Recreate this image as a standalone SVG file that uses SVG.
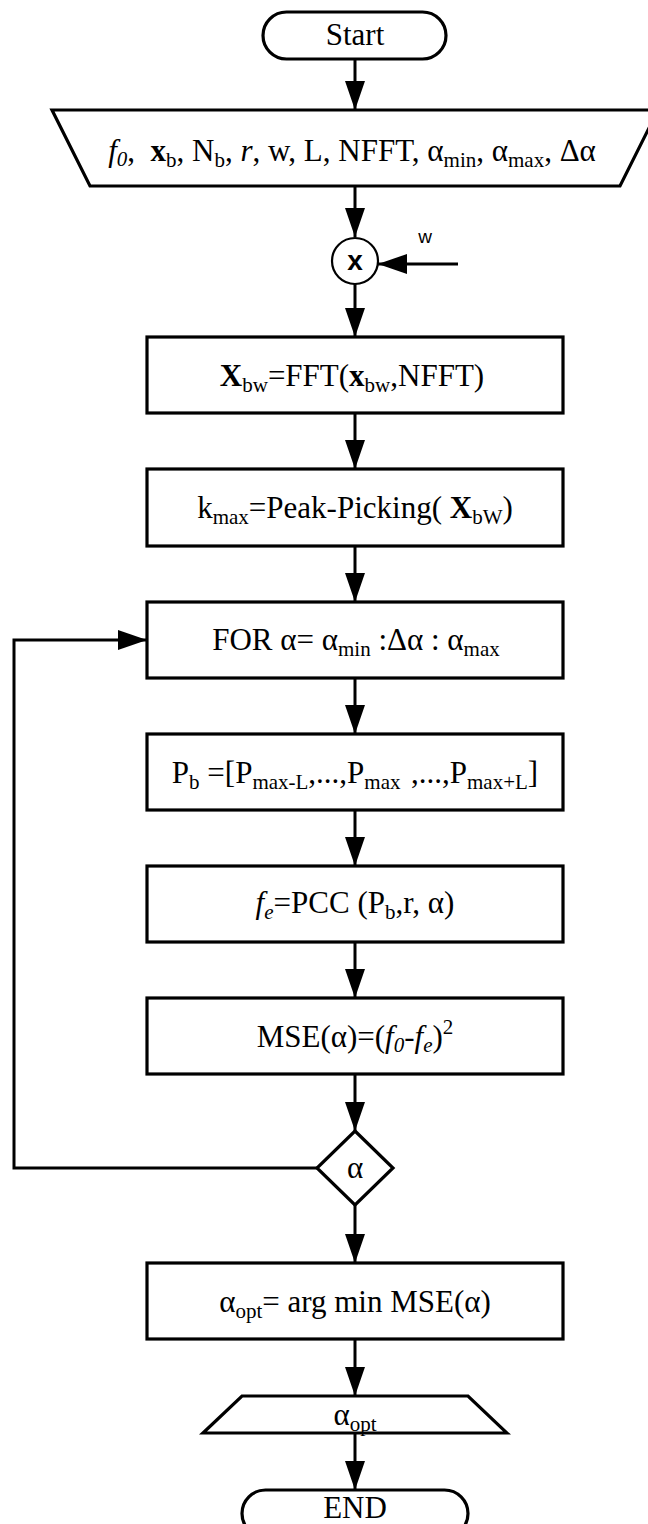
<svg xmlns="http://www.w3.org/2000/svg" width="648" height="1524" viewBox="0 0 648 1524">
<style>
.ln{stroke:#000;stroke-width:3;fill:none}
.bx{fill:#fff;stroke:#000;stroke-width:3.2}
.t{font-family:"Liberation Serif","Times New Roman",serif;font-size:31px;text-anchor:middle;fill:#000}
.s{font-size:21px}
.b{font-weight:bold}
.i{font-style:italic}
.sans{font-family:"Liberation Sans",Arial,sans-serif;fill:#000}
</style>
<defs>
<marker id="ah" markerUnits="userSpaceOnUse" markerWidth="29" markerHeight="20" refX="29" refY="10" orient="auto">
<path d="M0,0 L29,10 L0,20 Z" fill="#000"/>
</marker>
</defs>
<rect width="648" height="1524" fill="#fff"/>
<g id="connectors">
<line class="ln" x1="355" y1="59" x2="355" y2="110" marker-end="url(#ah)"/>
<line class="ln" x1="355" y1="186" x2="355" y2="237" marker-end="url(#ah)"/>
<line class="ln" x1="458" y1="264" x2="378" y2="264" marker-end="url(#ah)"/>
<line class="ln" x1="355" y1="284" x2="355" y2="337" marker-end="url(#ah)"/>
<line class="ln" x1="355" y1="413" x2="355" y2="469" marker-end="url(#ah)"/>
<line class="ln" x1="355" y1="546" x2="355" y2="602" marker-end="url(#ah)"/>
<line class="ln" x1="355" y1="678" x2="355" y2="734" marker-end="url(#ah)"/>
<line class="ln" x1="355" y1="810" x2="355" y2="866" marker-end="url(#ah)"/>
<line class="ln" x1="355" y1="942" x2="355" y2="998" marker-end="url(#ah)"/>
<line class="ln" x1="355" y1="1074" x2="355" y2="1131" marker-end="url(#ah)"/>
<line class="ln" x1="355" y1="1205" x2="355" y2="1263" marker-end="url(#ah)"/>
<line class="ln" x1="355" y1="1339" x2="355" y2="1396" marker-end="url(#ah)"/>
<line class="ln" x1="355" y1="1433" x2="355" y2="1490" marker-end="url(#ah)"/>
<polyline class="ln" points="317,1168 14,1168 14,640 147,640" marker-end="url(#ah)"/>
</g>
<g id="start">
<rect class="bx" x="263" y="12" width="183" height="47" rx="23.5"/>
<text class="t" x="355" y="45">Start</text>
</g>
<g id="input">
<polygon class="bx" points="52,110 658,110 620,186 90,186"/>
<text class="t" x="352" y="161" font-size="32" xml:space="preserve"><tspan class="i">f</tspan><tspan class="s i" dy="5">0</tspan><tspan dy="-5">,  </tspan><tspan class="b">x</tspan><tspan class="s" dy="6">b</tspan><tspan dy="-6">, N</tspan><tspan class="s" dy="6">b</tspan><tspan dy="-6">, </tspan><tspan class="i">r</tspan><tspan>, w, L, NFFT, α</tspan><tspan class="s" dy="6">min</tspan><tspan dy="-6">, α</tspan><tspan class="s" dy="6">max</tspan><tspan dy="-6">, Δα</tspan></text>
</g>
<g id="multiplier">
<circle cx="355" cy="261" r="23" fill="#fff" stroke="#000" stroke-width="2.2"/>
<text class="sans" x="355" y="270" font-size="28" font-weight="bold" text-anchor="middle">x</text>
</g>
<g id="w-label">
<text class="sans" x="425" y="243" font-size="19" text-anchor="middle">w</text>
</g>
<g id="fft">
<rect class="bx" x="147" y="337" width="416" height="76"/>
<text class="t" x="352" y="386"><tspan class="b">X</tspan><tspan class="s" dy="6">bw</tspan><tspan dy="-6">=FFT(</tspan><tspan class="b">x</tspan><tspan class="s" dy="6">bw</tspan><tspan dy="-6">,NFFT)</tspan></text>
</g>
<g id="peak">
<rect class="bx" x="147" y="469" width="416" height="77"/>
<text class="t" x="355" y="518">k<tspan class="s" dy="6">max</tspan><tspan dy="-6">=Peak-Picking( </tspan><tspan class="b">X</tspan><tspan class="s" dy="6">bW</tspan><tspan dy="-6">)</tspan></text>
</g>
<g id="for">
<rect class="bx" x="147" y="602" width="416" height="76"/>
<text class="t" x="356" y="650">FOR α= α<tspan class="s" dy="6">min</tspan><tspan dy="-6"> :Δα : α</tspan><tspan class="s" dy="6">max</tspan></text>
</g>
<g id="pb">
<rect class="bx" x="147" y="734" width="416" height="76"/>
<text class="t" x="355" y="783" xml:space="preserve">P<tspan class="s" dy="6">b</tspan><tspan dy="-6"> =[P</tspan><tspan class="s" dy="6">max-L</tspan><tspan dy="-6">,...,P</tspan><tspan class="s" dy="6">max  </tspan><tspan dy="-6">,...,P</tspan><tspan class="s" dy="6">max+L</tspan><tspan dy="-6">]</tspan></text>
</g>
<g id="pcc">
<rect class="bx" x="147" y="866" width="416" height="76"/>
<text class="t" x="355" y="913"><tspan class="i">f</tspan><tspan class="s i" dy="6">e</tspan><tspan dy="-6">=PCC (P</tspan><tspan class="s" dy="6">b</tspan><tspan dy="-6">,r, α)</tspan></text>
</g>
<g id="mse">
<rect class="bx" x="147" y="998" width="416" height="76"/>
<text class="t" x="355" y="1047">MSE(α)=(<tspan class="i">f</tspan><tspan class="s i" dy="5">0</tspan><tspan class="i" dy="-5">-f</tspan><tspan class="s i" dy="5">e</tspan><tspan dy="-5">)</tspan><tspan class="s" dy="-13">2</tspan></text>
</g>
<g id="decision">
<polygon class="bx" points="355,1131 393,1168 355,1205 317,1168"/>
<text class="t" x="355" y="1178">α</text>
</g>
<g id="argmin">
<rect class="bx" x="147" y="1263" width="416" height="76"/>
<text class="t" x="355" y="1312">α<tspan class="s" dy="6">opt</tspan><tspan dy="-6">= arg min MSE(α)</tspan></text>
</g>
<g id="output">
<polygon class="bx" points="242,1396 468,1396 507,1433 203,1433"/>
<text class="t" x="355" y="1425">α<tspan class="s" dy="6">opt</tspan></text>
</g>
<g id="end">
<rect class="bx" x="242" y="1490" width="226" height="47" rx="23.5"/>
<text class="t" x="355" y="1518">END</text>
</g>
</svg>
